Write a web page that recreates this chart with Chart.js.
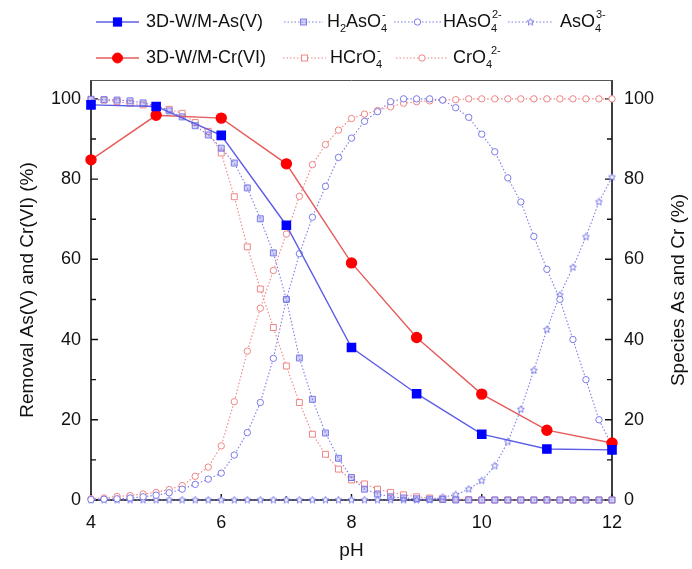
<!DOCTYPE html>
<html>
<head>
<meta charset="utf-8">
<script src="https://cdn.jsdelivr.net/npm/chart.js@4.4.0/dist/chart.umd.min.js"></script>
<style>
  html, body { margin: 0; padding: 0; background: #fff; }
  #wrap { width: 692px; height: 569px; }
</style>
</head>
<body>
<div id="wrap"><canvas id="chart" width="692" height="569"></canvas></div>
<script>
// removal measured at whole pH units
const phRemoval = [4, 5, 6, 7, 8, 9, 10, 11, 12];
const removalAs = [98.5, 98.1, 90.9, 68.5, 38.0, 26.5, 16.4, 12.7, 12.5];
const removalCr = [84.8, 95.9, 95.2, 83.8, 59.1, 40.5, 26.4, 17.4, 14.2];

// species distribution, 0.2 pH steps
const phSpecies = [4.0, 4.2, 4.4, 4.6, 4.8, 5.0, 5.2, 5.4, 5.6, 5.8, 6.0, 6.2, 6.4, 6.6, 6.8, 7.0,
  7.2, 7.4, 7.6, 7.8, 8.0, 8.2, 8.4, 8.6, 8.8, 9.0, 9.2, 9.4, 9.6, 9.8, 10.0, 10.2, 10.4, 10.6,
  10.8, 11.0, 11.2, 11.4, 11.6, 11.8, 12.0];
const h2aso4 = [99.9, 99.8, 99.7, 99.5, 99.0, 98.3, 97.0, 95.5, 93.3, 91.0, 87.7, 84.0, 77.8, 70.1,
  61.6, 50.0, 35.4, 25.1, 16.7, 10.4, 5.6, 2.7, 1.5, 0.8, 0.5, 0.3, 0.2, 0.1, 0, 0, 0, 0, 0, 0, 0,
  0, 0, 0, 0, 0, 0];
const haso4 = [0.1, 0.2, 0.3, 0.5, 0.8, 1.2, 1.8, 2.7, 3.9, 5.2, 6.7, 11.2, 16.8, 24.3, 35.3, 50.0,
  61.4, 70.5, 78.2, 85.4, 90.2, 94.4, 96.8, 99.3, 100, 100, 100, 99.7, 97.8, 95.4, 91.2, 86.8, 80.3,
  74.3, 65.7, 57.5, 50.0, 40.0, 30.0, 20.0, 13.5];
const aso4 = [0, 0, 0, 0, 0, 0, 0, 0, 0, 0, 0, 0, 0, 0, 0, 0, 0, 0, 0, 0, 0, 0, 0, 0, 0, 0, 0,
  0.7, 1.3, 2.7, 4.8, 8.5, 14.5, 22.6, 32.3, 42.5, 51.1, 58.0, 65.6, 74.3, 80.5];
const hcro4 = [99.8, 99.7, 99.3, 98.9, 98.5, 98.0, 97.4, 96.4, 94.1, 91.9, 86.5, 75.6, 63.1, 52.6,
  43.0, 33.4, 24.3, 16.4, 11.4, 7.7, 5.0, 4.0, 2.7, 1.9, 1.3, 0.8, 0.5, 0.3, 0.2, 0.1, 0, 0, 0, 0,
  0, 0, 0, 0, 0, 0, 0];
const cro4 = [0.3, 0.5, 0.9, 1.1, 1.5, 1.9, 2.6, 3.6, 5.9, 8.2, 13.5, 24.5, 37.1, 47.8, 57.2, 66.3,
  75.7, 83.6, 88.6, 92.2, 95.1, 96.2, 97.1, 98.0, 98.9, 99.3, 99.5, 99.7, 99.8, 100, 100, 100, 100,
  100, 100, 100, 100, 100, 100, 100, 100];

const xTicks = [4, 6, 8, 10, 12];
const xMinorTicks = [5, 7, 9, 11];
const yTicks = [0, 20, 40, 60, 80, 100];
const yMinorTicks = [10, 30, 50, 70, 90];

const FONT = "'Liberation Sans', Arial, sans-serif";
const AS_LIGHT = '#7b7be9';
const CR_LIGHT = '#ef8585';

function pts(xs, ys) { return xs.map((x, i) => ({ x: x, y: ys[i] })); }

// small open five-point star used for AsO4(3-)
function starImage(size, color) {
  const c = document.createElement('canvas');
  c.width = c.height = size;
  const g = c.getContext('2d');
  const cx = size / 2, cy = size / 2, R = size / 2 - 0.8, r = R * 0.45;
  g.beginPath();
  for (let i = 0; i < 10; i++) {
    const a = -Math.PI / 2 + i * Math.PI / 5;
    const rr = i % 2 ? r : R;
    g.lineTo(cx + rr * Math.cos(a), cy + rr * Math.sin(a));
  }
  g.closePath();
  g.fillStyle = '#fff';
  g.fill();
  g.strokeStyle = color;
  g.lineWidth = 1;
  g.stroke();
  return c;
}
const star = starImage(9, AS_LIGHT);

const speciesBase = {
  yAxisID: 'y2', borderWidth: 1.1, borderDash: [1.5, 2], pointBorderWidth: 1,
  pointRadius: 3.2, backgroundColor: '#fff', clip: false
};

const datasets = [
  { label: '3D-W/M-As(V)', data: pts(phRemoval, removalAs), yAxisID: 'y',
    borderColor: '#5d5de6', borderWidth: 1.4, pointStyle: 'rect', pointRadius: 5.8,
    pointBackgroundColor: '#0000ff', pointBorderColor: '#0000ff', clip: false },
  { label: '3D-W/M-Cr(VI)', data: pts(phRemoval, removalCr), yAxisID: 'y',
    borderColor: '#e65b5b', borderWidth: 1.4, pointStyle: 'circle', pointRadius: 5,
    pointBackgroundColor: '#ff0000', pointBorderColor: '#ff0000', clip: false },
  Object.assign({}, speciesBase, { label: 'H2AsO4-', data: pts(phSpecies, h2aso4),
    borderColor: AS_LIGHT, pointStyle: 'rect', pointRadius: 4.2,
    pointBackgroundColor: 'rgba(123,123,233,0.35)', pointBorderColor: AS_LIGHT }),
  Object.assign({}, speciesBase, { label: 'HAsO4 2-', data: pts(phSpecies, haso4),
    borderColor: AS_LIGHT, pointStyle: 'circle',
    pointBackgroundColor: '#fff', pointBorderColor: AS_LIGHT }),
  Object.assign({}, speciesBase, { label: 'AsO4 3-', data: pts(phSpecies, aso4),
    borderColor: AS_LIGHT, pointStyle: star,
    pointBackgroundColor: '#fff', pointBorderColor: AS_LIGHT }),
  Object.assign({}, speciesBase, { label: 'HCrO4-', data: pts(phSpecies, hcro4),
    borderColor: CR_LIGHT, pointStyle: 'rect', pointRadius: 4.2,
    pointBackgroundColor: '#fff', pointBorderColor: CR_LIGHT }),
  Object.assign({}, speciesBase, { label: 'CrO4 2-', data: pts(phSpecies, cro4),
    borderColor: CR_LIGHT, pointStyle: 'circle',
    pointBackgroundColor: '#fff', pointBorderColor: CR_LIGHT })
];

// legend entries: sample line span, text start and rich text parts
const legendRows = [
  { y: 22, items: [
    { ds: 0, x0: 96, x1: 139, tx: 146, parts: [{ t: '3D-W/M-As(V)' }] },
    { ds: 2, x0: 284, x1: 323, tx: 327, parts: [{ t: 'H' }, { sub: '2' }, { t: 'AsO' }, { sub: '4', sup: '-' }] },
    { ds: 3, x0: 394, x1: 441, tx: 443, parts: [{ t: 'HAsO' }, { sub: '4', sup: '2-' }] },
    { ds: 4, x0: 508, x1: 553, tx: 560, parts: [{ t: 'AsO' }, { sub: '4', sup: '3-' }] }
  ] },
  { y: 58, items: [
    { ds: 1, x0: 96, x1: 139, tx: 146, parts: [{ t: '3D-W/M-Cr(VI)' }] },
    { ds: 5, x0: 283, x1: 326, tx: 330, parts: [{ t: 'HCrO' }, { sub: '4', sup: '-' }] },
    { ds: 6, x0: 396, x1: 448, tx: 453, parts: [{ t: 'CrO' }, { sub: '4', sup: '2-', supShift: 5 }] }
  ] }
];

function drawMarker(ctx, ds, x, y) {
  const st = ds.pointStyle, r = ds.pointRadius;
  ctx.save();
  ctx.fillStyle = ds.pointBackgroundColor;
  ctx.strokeStyle = ds.pointBorderColor;
  ctx.lineWidth = 1;
  ctx.setLineDash([]);
  if (st instanceof HTMLCanvasElement) {
    ctx.drawImage(st, x - st.width / 2, y - st.height / 2);
  } else if (st === 'rect') {
    const s = Math.SQRT1_2 * r;
    ctx.fillRect(x - s, y - s, 2 * s, 2 * s);
    ctx.strokeRect(x - s, y - s, 2 * s, 2 * s);
  } else {
    ctx.beginPath();
    ctx.arc(x, y, r, 0, Math.PI * 2);
    ctx.fill();
    ctx.stroke();
  }
  ctx.restore();
}

function drawRich(ctx, x, y, parts) {
  for (const p of parts) {
    if (p.t) {
      ctx.font = '18px ' + FONT;
      ctx.fillText(p.t, x, y);
      x += ctx.measureText(p.t).width;
    } else {
      ctx.font = '11px ' + FONT;
      let w = 0;
      if (p.sub) { ctx.fillText(p.sub, x, y + 7); w = ctx.measureText(p.sub).width; }
      if (p.sup) {
        const sx = x + (p.supShift || 1);
        ctx.fillText(p.sup, sx, y - 7);
        w = Math.max(w, sx - x + ctx.measureText(p.sup).width);
      }
      x += w;
    }
  }
}

const legendPlugin = {
  id: 'richLegend',
  afterDraw(chart) {
    const ctx = chart.ctx;
    ctx.save();
    ctx.textBaseline = 'middle';
    ctx.fillStyle = '#111';
    for (const row of legendRows) {
      for (const it of row.items) {
        const ds = chart.data.datasets[it.ds];
        ctx.save();
        ctx.strokeStyle = ds.borderColor;
        ctx.lineWidth = ds.borderWidth;
        ctx.setLineDash(ds.borderDash || []);
        ctx.beginPath();
        ctx.moveTo(it.x0, row.y);
        ctx.lineTo(it.x1, row.y);
        ctx.stroke();
        ctx.restore();
        drawMarker(ctx, ds, (it.x0 + it.x1) / 2, row.y);
        ctx.fillStyle = '#111';
        drawRich(ctx, it.tx, row.y, it.parts);
      }
    }
    ctx.restore();
  }
};

// frame with inward ticks, plus the right-hand axis title
const framePlugin = {
  id: 'frameTicks',
  beforeDatasetsDraw(chart) {
    const { ctx, chartArea: a, scales } = chart;
    ctx.save();
    ctx.strokeStyle = '#111';
    ctx.lineWidth = 1.6;
    ctx.beginPath();
    ctx.moveTo(a.left, a.top); ctx.lineTo(a.left, a.bottom);
    ctx.lineTo(a.right, a.bottom); ctx.lineTo(a.right, a.top);
    ctx.stroke();
    ctx.strokeStyle = '#555';
    ctx.lineWidth = 1;
    ctx.beginPath();
    ctx.moveTo(a.left, a.top + 0.5); ctx.lineTo(a.right, a.top + 0.5);
    ctx.stroke();

    ctx.strokeStyle = '#111';
    ctx.lineWidth = 1.4;
    ctx.beginPath();
    const tickX = (v, len) => {
      const px = scales.x.getPixelForValue(v);
      ctx.moveTo(px, a.bottom); ctx.lineTo(px, a.bottom - len);
    };
    xTicks.forEach(v => tickX(v, 6));
    xMinorTicks.forEach(v => tickX(v, 4));
    const tickY = (v, len) => {
      const pl = scales.y.getPixelForValue(v);
      ctx.moveTo(a.left, pl); ctx.lineTo(a.left + len, pl);
      const pr = scales.y2.getPixelForValue(v);
      ctx.moveTo(a.right, pr); ctx.lineTo(a.right - len, pr);
    };
    yTicks.forEach(v => tickY(v, 7));
    yMinorTicks.forEach(v => tickY(v, 5));
    ctx.stroke();
    ctx.restore();
  },
  afterDraw(chart) {
    const { ctx, chartArea: a } = chart;
    ctx.save();
    ctx.translate(679, (a.top + a.bottom) / 2);
    ctx.rotate(-Math.PI / 2);
    ctx.font = '19px ' + FONT;
    ctx.fillStyle = '#111';
    ctx.textAlign = 'center';
    ctx.textBaseline = 'middle';
    ctx.fillText('Species As and Cr (%)', 0, 0);
    ctx.restore();
  }
};

const tickFont = { family: FONT, size: 18 };
const titleFont = { family: FONT, size: 19 };

new Chart(document.getElementById('chart'), {
  type: 'line',
  data: { datasets: datasets },
  options: {
    responsive: false,
    animation: false,
    layout: { padding: { top: 80, left: 0, right: 0, bottom: 0 } },
    elements: { line: { tension: 0 } },
    plugins: { legend: { display: false }, tooltip: { enabled: false } },
    scales: {
      x: {
        type: 'linear', min: 4, max: 12,
        afterBuildTicks: s => { s.ticks = xTicks.map(v => ({ value: v })); },
        afterFit: s => { s.height = 69; },
        grid: { display: false, drawTicks: false },
        border: { display: false },
        ticks: { padding: 12, font: tickFont, color: '#111', maxRotation: 0 },
        title: { display: true, text: 'pH', font: titleFont, color: '#111', padding: 6.6 }
      },
      y: {
        position: 'left', min: 0, max: 104.7,
        afterBuildTicks: s => { s.ticks = yTicks.map(v => ({ value: v })); },
        afterFit: s => { s.width = 91; },
        grid: { display: false, drawTicks: false },
        border: { display: false },
        ticks: { padding: 10, font: tickFont, color: '#111' },
        title: { display: true, text: 'Removal As(V) and Cr(VI) (%)', font: titleFont,
          color: '#111', padding: 16.6 }
      },
      y2: {
        position: 'right', min: 0, max: 104.7,
        afterBuildTicks: s => { s.ticks = yTicks.map(v => ({ value: v })); },
        afterFit: s => { s.width = 80; },
        grid: { display: false, drawTicks: false },
        border: { display: false },
        ticks: { padding: 12, font: tickFont, color: '#111' }
      }
    }
  },
  plugins: [framePlugin, legendPlugin]
});
</script>
</body>
</html>
